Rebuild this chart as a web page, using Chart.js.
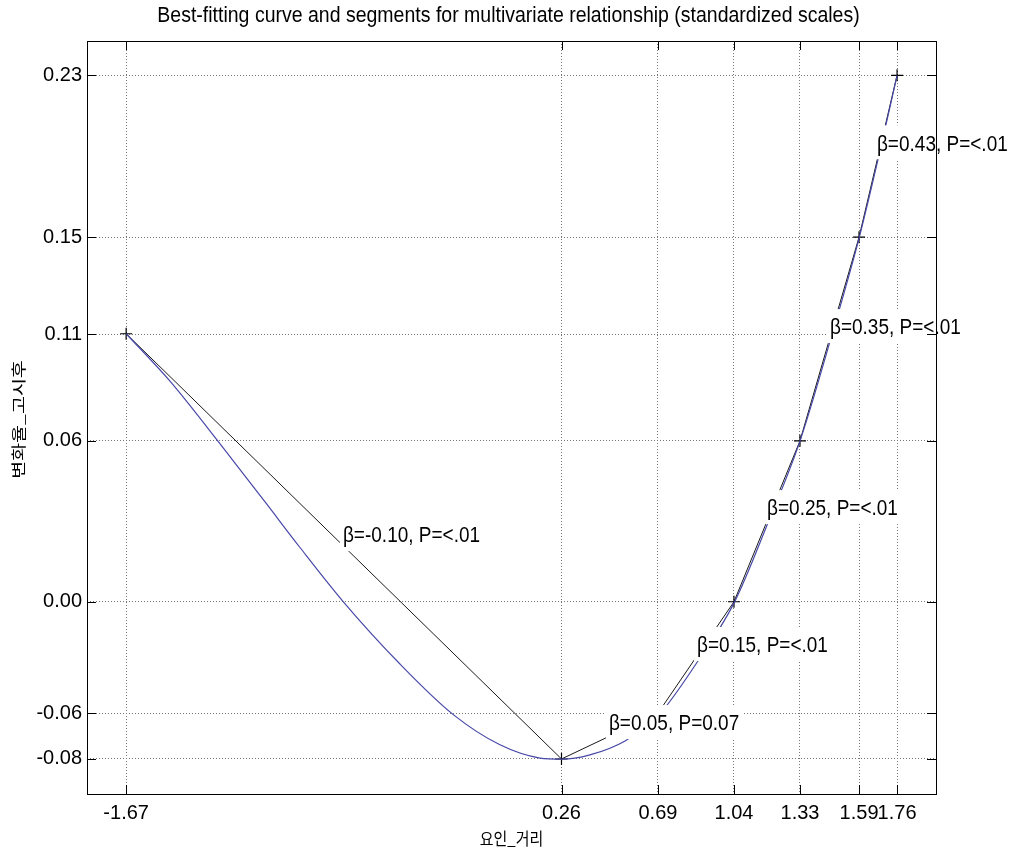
<!DOCTYPE html>
<html>
<head>
<meta charset="utf-8">
<script src="https://cdn.jsdelivr.net/npm/chart.js@4/dist/chart.umd.min.js"></script>
<style>
  html, body { margin: 0; padding: 0; background: #fff; }
</style>
</head>
<body>
<canvas id="myChart" width="1016" height="851"></canvas>
<script>
'use strict';

// best-fitting curve (blue)
const curveX = [-1.686, -1.490, -1.267, -1.065, -0.909, -0.717, -0.462, -0.225, -0.015, 0.164, 0.260,
                0.387, 0.544, 0.691, 0.861, 1.031, 1.179, 1.326, 1.458, 1.590, 1.675, 1.760];
const curveY = [0.1171, 0.0964, 0.0691, 0.0436, 0.0237, 0.0002, -0.0272, -0.0492, -0.0625, -0.0683, -0.0688,
                -0.0669, -0.0608, -0.0499, -0.0272, -0.0006, 0.0335, 0.0702, 0.1130, 0.1588, 0.1933, 0.2300];

// segment knots (black)
const knotX = [-1.686, 0.260, 0.691, 1.031, 1.326, 1.590, 1.760];
const knotY = [0.1171, -0.0687, -0.0487, 0.0000, 0.0703, 0.1593, 0.2300];

// tick positions and their printed labels
const xTickPos = [-1.686, 0.260, 0.691, 1.031, 1.326, 1.590, 1.760];
const xTickText = ['-1.67', '0.26', '0.69', '1.04', '1.33', '1.59', '1.76'];
const yTickPos = [0.2300, 0.1593, 0.1169, 0.0703, 0.0000, -0.0487, -0.0687];
const yTickText = ['0.23', '0.15', '0.11', '0.06', '0.00', '-0.06', '-0.08'];

// segment annotations, anchored at text left / middle
const noteText = ['β=-0.10, P=<.01', 'β=0.05, P=0.07', 'β=0.15, P=<.01',
                  'β=0.25, P=<.01', 'β=0.35, P=<.01', 'β=0.43, P=<.01'];
const noteX = [-0.717, 0.472, 0.866, 1.179, 1.460, 1.670];
const noteY = [0.0291, -0.0530, -0.0189, 0.0409, 0.1200, 0.2003];

const titleText = 'Best-fitting curve and segments for multivariate relationship (standardized scales)';
const xTitle = '요인_거리';
const yTitle = '변화율_고시후';

const FONT = "'Liberation Sans', Arial, sans-serif";
const KFONT = "'Noto Sans CJK KR', 'Noto Sans', sans-serif";

Chart.defaults.font.family = FONT;
Chart.defaults.color = '#000';

// the original picture is a bit taller than wide, so text is stretched vertically
function tallText(ctx, text, x, y, sy) {
    ctx.save();
    ctx.translate(x, y);
    ctx.scale(1, sy);
    ctx.fillText(text, 0, 0);
    ctx.restore();
}

// MATLAB-like frame, inner ticks, labels and titles
const decorations = {
    id: 'decorations',
    afterDatasetsDraw(chart) {
        const ctx = chart.ctx;
        const a = chart.chartArea;
        const xs = chart.scales.x;
        const ys = chart.scales.y;
        ctx.save();

        // annotations with white background
        ctx.font = '19px ' + FONT;
        ctx.textBaseline = 'middle';
        ctx.textAlign = 'left';
        for (let i = 0; i < noteText.length; i++) {
            let px = xs.getPixelForValue(noteX[i]);
            let py = ys.getPixelForValue(noteY[i]);
            let w = ctx.measureText(noteText[i]).width;
            ctx.fillStyle = '#fff';
            ctx.fillRect(px - 3, py - 18, w + 6, 34);
            ctx.fillStyle = '#000';
            tallText(ctx, noteText[i], px, py + 1, 1.2);
        }

        // box
        ctx.strokeStyle = '#000';
        ctx.lineWidth = 1;
        ctx.strokeRect(Math.round(a.left) + 0.5, Math.round(a.top) + 0.5,
            Math.round(a.right - a.left), Math.round(a.bottom - a.top));

        // inner tick marks on all four sides
        ctx.beginPath();
        xTickPos.forEach(function (v) {
            let px = Math.round(xs.getPixelForValue(v)) + 0.5;
            ctx.moveTo(px, a.bottom); ctx.lineTo(px, a.bottom - 9);
            ctx.moveTo(px, a.top); ctx.lineTo(px, a.top + 9);
        });
        yTickPos.forEach(function (v) {
            let py = Math.round(ys.getPixelForValue(v)) + 0.5;
            ctx.moveTo(a.left, py); ctx.lineTo(a.left + 9, py);
            ctx.moveTo(a.right, py); ctx.lineTo(a.right - 9, py);
        });
        ctx.stroke();

        // title
        ctx.fillStyle = '#000';
        ctx.textAlign = 'center';
        ctx.font = '19.5px ' + FONT;
        tallText(ctx, titleText, (a.left + a.right) / 2 - 3, 16, 1.12);

        // axis titles
        ctx.font = '15px ' + KFONT;
        tallText(ctx, xTitle, (a.left + a.right) / 2, 839, 1.1);
        ctx.translate(18, (a.top + a.bottom) / 2 + 2);
        ctx.rotate(-Math.PI / 2);
        ctx.scale(1.3, 1);
        ctx.fillText(yTitle, 0, 0);
        ctx.restore();
    }
};

let ctx = document.getElementById('myChart').getContext('2d');
let myChart = new Chart(ctx, {
    type: 'line',
    data: {
        datasets: [
            {
                label: 'curve',
                data: curveX.map((x, i) => ({ x: x, y: curveY[i] })),
                borderColor: '#4848a8',
                borderWidth: 1.2,
                pointRadius: 0,
                cubicInterpolationMode: 'monotone',
                fill: false,
            }, {
                label: 'segments',
                data: knotX.map((x, i) => ({ x: x, y: knotY[i] })),
                borderColor: '#1a1a1a',
                borderWidth: 1,
                tension: 0,
                pointStyle: 'cross',
                pointRadius: 6,
                pointBorderColor: '#000',
                pointBorderWidth: 1.2,
                fill: false,
            }
        ]
    },
    options: {
        responsive: false,
        animation: false,
        events: [],
        layout: { padding: { top: 41, right: 80, bottom: 0, left: 0 } },
        plugins: {
            legend: { display: false },
            title: { display: false },
            tooltip: { enabled: false },
        },
        scales: {
            x: {
                type: 'linear',
                min: -1.861,
                max: 1.934,
                afterBuildTicks: function (scale) {
                    scale.ticks = xTickPos.map(v => ({ value: v }));
                },
                afterFit: function (scale) { scale.height = 57; },
                ticks: {
                    autoSkip: false,
                    maxRotation: 0,
                    padding: 7,
                    font: { size: 20 },
                    color: '#000',
                    callback: function (value, index) { return xTickText[index]; }
                },
                grid: { color: '#777', lineWidth: 1, drawTicks: false },
                border: { display: false, dash: [1, 2] },
            },
            y: {
                type: 'linear',
                min: -0.084,
                max: 0.245,
                afterBuildTicks: function (scale) {
                    scale.ticks = yTickPos.map(v => ({ value: v }));
                },
                afterFit: function (scale) { scale.width = 87; },
                ticks: {
                    autoSkip: false,
                    padding: 5,
                    font: { size: 20 },
                    color: '#000',
                    callback: function (value, index) { return yTickText[index]; }
                },
                grid: { color: '#777', lineWidth: 1, drawTicks: false },
                border: { display: false, dash: [1, 2] },
            }
        }
    },
    plugins: [decorations]
});
</script>
</body>
</html>
